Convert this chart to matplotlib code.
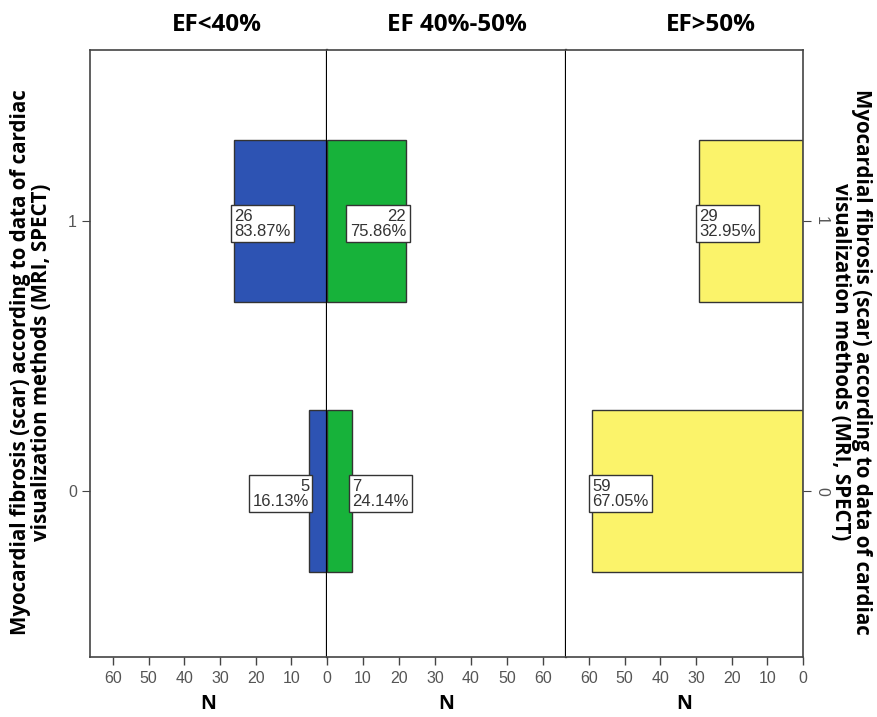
import matplotlib.pyplot as plt
import numpy as np

# datos: conteos por grupo de FE y categoría de fibrosis (0 / 1)
categorias = [0, 1]
grupos = ['EF<40%', 'EF 40%-50%', 'EF>50%']
n_fe40 = [5, 26]
n_fe40_50 = [7, 22]
n_fe50 = [59, 29]
pct_fe40 = ['16.13%', '83.87%']
pct_fe40_50 = ['24.14%', '75.86%']
pct_fe50 = ['67.05%', '32.95%']
ticks_n = [0, 10, 20, 30, 40, 50, 60]

colores = ['#2d53b3', '#17b23a', '#fbf36a']
series = [n_fe40, n_fe40_50, n_fe50]
pcts = [pct_fe40, pct_fe40_50, pct_fe50]
invertido = [True, False, True]

W, H = 878, 717
fig = plt.figure(figsize=(W / 100, H / 100), dpi=100)

x0, x_div1, x_div2, x1 = 90, 327, 566, 803
y_top, y_bot = 50, 657
bordes = [(x0, x_div1), (x_div1, x_div2), (x_div2, x1)]
frame_col = '#444444'
xmax = 66.4

ylabel = 'Myocardial fibrosis (scar) according to data of cardiac\nvisualization methods (MRI, SPECT)'
fuente = 'Open Sans'

try:
    axes = []
    for i, (a, b) in enumerate(bordes):
        ax = fig.add_axes([a / W, (H - y_bot) / H, (b - a) / W, (y_bot - y_top) / H])
        axes.append(ax)
        ax.barh(categorias, series[i], height=0.6, color=colores[i],
                edgecolor='#333333', linewidth=1.0, zorder=2)
        ax.set_ylim(-0.615, 1.633)
        if invertido[i]:
            ax.set_xlim(xmax, 0)
        else:
            ax.set_xlim(0, xmax)
        ticks = ticks_n if i != 0 else ticks_n[1:]
        ax.set_xticks(ticks)
        ax.set_xticklabels([str(t) for t in ticks], fontsize=11.5, color='#555555',
                           family='Liberation Sans')
        ax.tick_params(axis='x', length=6, width=1, color=frame_col, pad=4)

        # etiquetas con recuadro
        for c, v, p in zip(categorias, series[i], pcts[i]):
            dentro = v > 10
            # en pantalla: hacia 0 si dentro, hacia fuera si no
            hacia_der = (dentro and invertido[i]) or (not dentro and not invertido[i])
            ha = 'left' if hacia_der else 'right'
            ax.text(v, c - 0.01, f'{v}\n{p}', ha=ha, va='center', multialignment=ha,
                    fontsize=12, color='#333333', family='Liberation Sans',
                    linespacing=1.0, zorder=4,
                    bbox=dict(boxstyle='square,pad=0.2', fc='white', ec='#333333', lw=1.0))

        for s in ['top', 'bottom', 'left', 'right']:
            ax.spines[s].set_color(frame_col)
            ax.spines[s].set_linewidth(1.2)
        if i > 0:
            ax.spines['left'].set_visible(False)
        if i < 2:
            ax.spines['right'].set_color('black')
            ax.spines['right'].set_linewidth(1.6)

        ax.text(0.5, -0.078, 'N', transform=ax.transAxes, ha='center', va='center',
                fontsize=14, fontweight='bold', family=fuente)

    # ejes y
    axes[0].set_yticks(categorias)
    axes[0].set_yticklabels(['0', '1'], fontsize=11.5, color='#555555', family='Liberation Sans')
    axes[0].tick_params(axis='y', length=6, color=frame_col)
    axes[1].set_yticks([])
    axes[2].set_yticks(categorias)
    axes[2].yaxis.tick_right()
    axes[2].set_yticklabels(['0', '1'], fontsize=11.5, color='#555555', family='Liberation Sans',
                            rotation=-90, va='center')
    axes[2].tick_params(axis='y', length=6, color=frame_col, pad=2)

    # títulos de grupo
    for g, xc in zip(grupos, [217, 457, 711]):
        fig.text(xc / W, 1 - 25 / H, g, ha='center', va='center', fontsize=17.5,
                 fontweight='bold', family=fuente)

    fig.text(31 / W, 0.495, ylabel, rotation=90, ha='center', va='center', fontsize=14.8,
             fontweight='bold', family=fuente, multialignment='center', linespacing=1.05)
    fig.text(851 / W, 0.495, ylabel, rotation=-90, ha='center', va='center', fontsize=14.8,
             fontweight='bold', family=fuente, multialignment='center', linespacing=1.05)

    fig.savefig('out.png', dpi=100)
    print("Execution successful")
except Exception as e:
    print(f"Error: {e}")
